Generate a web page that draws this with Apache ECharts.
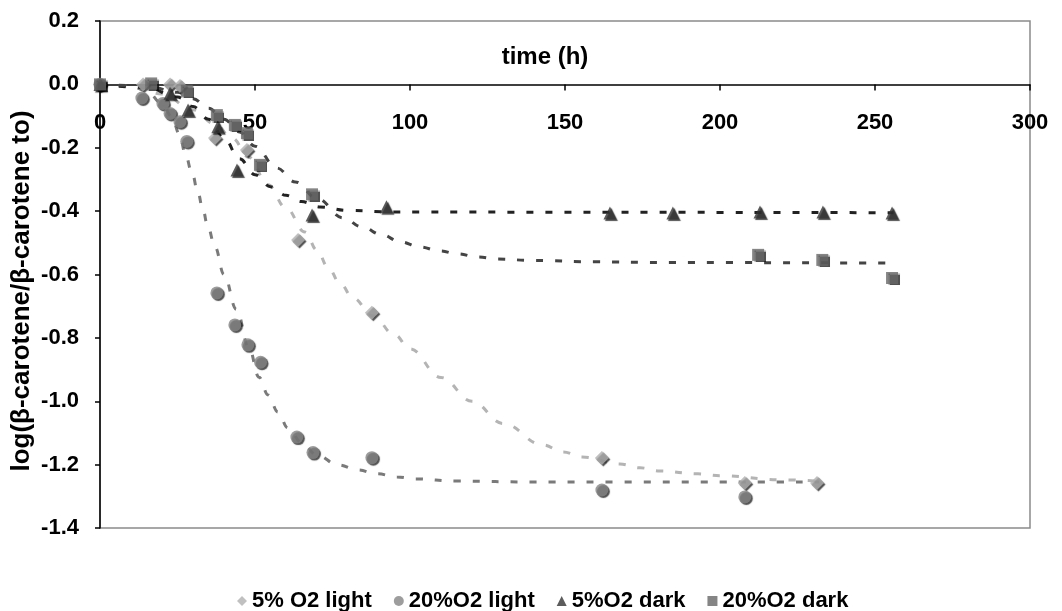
<!DOCTYPE html>
<html>
<head>
<meta charset="utf-8">
<script src="https://cdn.jsdelivr.net/npm/echarts@6/dist/echarts.min.js"></script>
<style>html,body{margin:0;padding:0;background:#fff}#c{width:1062px;height:611px}</style>
</head>
<body>
<div id="c"></div>
<script>
// ---- data ----
const seriesNames = ['5% O2 light', '20%O2 light', '5%O2 dark', '20%O2 dark'];
const xTicks = [0, 50, 100, 150, 200, 250, 300];
const yTicks = [0.2, 0.0, -0.2, -0.4, -0.6, -0.8, -1.0, -1.2, -1.4];
const xTitle = 'time (h)';
const yTitle = 'log(β-carotene/β-carotene to)';

const light5 = [[0,0],[13.9,0],[22.6,0],[25.8,-0.005],[37.1,-0.169],[47.4,-0.207],[63.9,-0.491],[87.7,-0.721],[161.9,-1.179],[208,-1.258],[231.3,-1.258]];
const light20 = [[0,0],[13.5,-0.043],[20.3,-0.06],[22.6,-0.092],[25.8,-0.118],[28,-0.18],[37.7,-0.658],[43.5,-0.759],[47.7,-0.822],[51.8,-0.877],[63.5,-1.113],[68.7,-1.162],[87.7,-1.178],[161.9,-1.28],[208,-1.302]];
const dark5 = [[0,0],[22.6,-0.028],[28.4,-0.081],[38,-0.134],[44.2,-0.27],[68.4,-0.412],[92.4,-0.386],[164.5,-0.406],[184.8,-0.406],[212.9,-0.403],[233.2,-0.403],[255.5,-0.406]];
const dark20 = [[0,0],[16.5,0.003],[28,-0.02],[37.7,-0.097],[43.5,-0.128],[47.4,-0.154],[51.6,-0.254],[68.4,-0.347],[212.3,-0.538],[233,-0.554],[255.5,-0.611]];

// fitted trend curves
const fitLight5 = [[0,0],[10,-0.005],[20,-0.03],[30,-0.08],[37,-0.125],[42.6,-0.169],[48,-0.23],[54.2,-0.317],[60,-0.39],[66.1,-0.466],[70,-0.523],[73.5,-0.576],[77.4,-0.627],[81.6,-0.674],[88,-0.73],[95,-0.79],[100,-0.835],[110,-0.925],[120,-1.0],[130,-1.07],[142.9,-1.138],[149.4,-1.16],[155.5,-1.176],[167.7,-1.198],[174.2,-1.21],[180.6,-1.22],[192.9,-1.229],[200,-1.235],[219.4,-1.248],[232,-1.252]];
const fitLight20 = [[0,0],[10,-0.005],[15,-0.02],[20,-0.06],[23,-0.1],[25.8,-0.16],[27.4,-0.216],[29.7,-0.279],[31.6,-0.342],[33.2,-0.396],[34.8,-0.45],[37.1,-0.513],[40,-0.6],[44,-0.71],[48,-0.83],[51.3,-0.924],[54.2,-0.98],[57.4,-1.034],[60.6,-1.084],[65,-1.13],[70,-1.17],[76.8,-1.201],[83.2,-1.217],[89.4,-1.229],[95.8,-1.239],[101.6,-1.245],[115,-1.252],[140,-1.255],[232,-1.255]];
const fitDark5 = [[0,0],[15,-0.01],[25,-0.04],[30,-0.07],[35,-0.11],[40,-0.17],[45,-0.235],[50,-0.285],[55,-0.323],[60,-0.35],[65,-0.37],[71,-0.387],[80,-0.398],[95,-0.403],[256,-0.405]];
const fitDark20 = [[0,0],[15,-0.005],[25,-0.025],[30,-0.045],[35,-0.075],[40,-0.11],[45,-0.15],[50,-0.195],[57,-0.264],[63,-0.308],[70,-0.36],[78.4,-0.421],[84.5,-0.45],[91,-0.475],[96.8,-0.497],[103.2,-0.513],[109.7,-0.526],[115.5,-0.535],[121.9,-0.545],[128,-0.551],[140,-0.556],[160,-0.56],[180,-0.562],[256,-0.564]];

// ---- chart ----
const font = 'Arial, "Liberation Sans", sans-serif';
const chart = echarts.init(document.getElementById('c'), null, {renderer: 'canvas'});

function scatter(name, data, symbol, color, size) {
  return {
    name, type: 'scatter', data, symbol, symbolSize: size, z: 5,
    itemStyle: {color, shadowColor: 'rgba(0,0,0,0.85)', shadowOffsetX: 1.5, shadowOffsetY: 1.5, shadowBlur: 1}
  };
}
function fit(data, color) {
  return {
    type: 'line', data, showSymbol: false, smooth: 0.4, smoothMonotone: 'x', z: 3,
    lineStyle: {color, width: 3, type: [7, 12]}, silent: true, legendHoverLink: false
  };
}

const gridTop = 21, gridBottomPx = 528;
const yMin = yTicks[yTicks.length - 1], yMax = yTicks[0];
// pixel distance from the grid bottom up to value 0 (so the tick labels sit under the zero line)
const zeroOffset = (gridBottomPx - gridTop) * (0 - yMin) / (yMax - yMin);

chart.setOption({
  animation: false,
  backgroundColor: '#fff',
  grid: {left: 100, right: 32, top: gridTop, bottom: 611 - gridBottomPx, show: true, borderColor: '#8a8a8a', borderWidth: 1.5, backgroundColor: 'transparent'},
  graphic: [{
    type: 'text', x: 545, y: 57,
    style: {text: xTitle, font: 'bold 24px ' + font, fill: '#000', textAlign: 'center', textVerticalAlign: 'middle'}
  }, {
    type: 'text', x: 22, y: 291, rotation: Math.PI / 2,
    style: {text: yTitle, font: 'bold 26px ' + font, fill: '#000', textAlign: 'center', textVerticalAlign: 'middle'}
  }],
  legend: {
    data: [
      {name: seriesNames[0], icon: 'diamond'},
      {name: seriesNames[1], icon: 'circle'},
      {name: seriesNames[2], icon: 'triangle'},
      {name: seriesNames[3], icon: 'rect'}
    ],
    left: 232, top: 585, itemWidth: 10, itemHeight: 10, itemGap: 22,
    textStyle: {fontFamily: font, fontWeight: 'bold', fontSize: 22, color: '#000'}
  },
  xAxis: [{
    type: 'value', min: xTicks[0], max: xTicks[xTicks.length - 1], interval: 50,
    axisLine: {onZero: true, lineStyle: {color: '#000', width: 1.5}},
    axisTick: {show: true, length: 6, lineStyle: {color: '#000', width: 1.5}},
    axisLabel: {show: false},
    splitLine: {show: false}
  }, {
    type: 'value', min: xTicks[0], max: xTicks[xTicks.length - 1], interval: 50,
    position: 'bottom', offset: -zeroOffset,
    axisLine: {show: false, onZero: false}, axisTick: {show: false},
    axisLabel: {margin: 28, fontFamily: font, fontWeight: 'bold', fontSize: 22, color: '#000'},
    splitLine: {show: false}
  }],
  yAxis: {
    type: 'value', min: yMin, max: yMax, interval: 0.2,
    axisLine: {show: true, lineStyle: {color: '#000', width: 1.5}},
    axisTick: {show: true, length: 5, lineStyle: {color: '#000', width: 1.5}},
    axisLabel: {margin: 21, fontFamily: font, fontWeight: 'bold', fontSize: 22, color: '#000',
      formatter: v => (Math.abs(v) < 1e-9 ? 0 : v).toFixed(1)},
    splitLine: {show: false}
  },
  series: [
    fit(fitLight5, '#b4b4b4'),
    fit(fitLight20, '#7a7a7a'),
    fit(fitDark5, '#222'),
    fit(fitDark20, '#444'),
    scatter(seriesNames[0], light5, 'diamond', '#b0b0b0', 14),
    scatter(seriesNames[1], light20, 'circle', '#858585', 13),
    scatter(seriesNames[2], dark5, 'triangle', '#333', 13),
    scatter(seriesNames[3], dark20, 'rect', '#666', 12)
  ]
});
</script>
</body>
</html>
